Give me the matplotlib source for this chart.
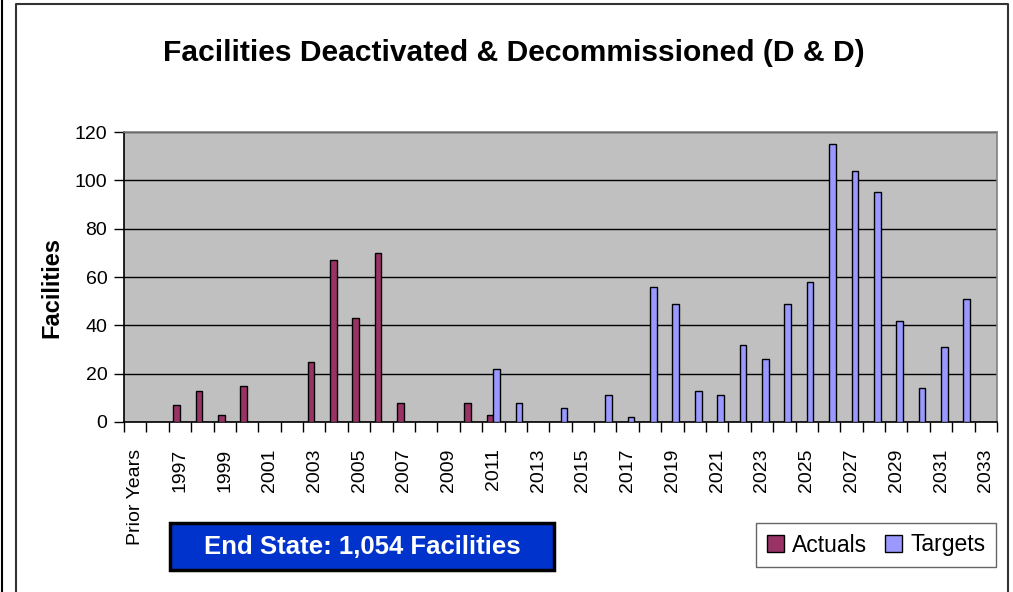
import numpy as np
import matplotlib.pyplot as plt
from matplotlib.lines import Line2D
from matplotlib.patches import Rectangle

# Datos (NaN = sin barra)
years = list(range(1996, 2034))
categories = ["Prior Years"] + [str(y) for y in years]

actuals = [np.nan, np.nan, 7, 13, 3, 15, np.nan, np.nan, 25, 67, 43, 70, 8,
           np.nan, np.nan, 8, 3] + [np.nan] * 22
targets = [np.nan] * 16 + [22, 8, np.nan, 6, np.nan, 11, 2, 56, 49, 13, 11, 32,
                           26, 49, 58, 115, 104, 95, 42, 14, 31, 51, np.nan]

REG = ["Liberation Sans", "DejaVu Sans"]

W, H = 1013, 592
fig = plt.figure(figsize=(W / 100, H / 100), dpi=100)
ax = fig.add_axes([124 / W, 1 - 422 / H, (997 - 124) / W, (422 - 132) / H])
ax.set_facecolor("#C0C0C0")

x = np.arange(len(categories))
bw = 0.3
a = np.array(actuals, dtype=float)
t = np.array(targets, dtype=float)
ma = ~np.isnan(a)
mt = ~np.isnan(t)
ax.bar(x[ma] - bw / 2, a[ma], width=bw, color="#993366", edgecolor="black",
       linewidth=1, zorder=3, label="Actuals")
ax.bar(x[mt] + bw / 2, t[mt], width=bw, color="#9999FF", edgecolor="black",
       linewidth=1, zorder=3, label="Targets")

ax.set_xlim(-0.5, len(categories) - 0.5)
ax.set_ylim(0, 120)
ax.set_yticks(np.arange(0, 121, 20))
ax.yaxis.grid(True, color="black", linewidth=1, zorder=1)
ax.set_axisbelow(True)
for lbl in ax.get_yticklabels():
    lbl.set_family(REG)
ax.tick_params(axis="y", length=7, width=1, pad=5, labelsize=14)

# etiquetas cada dos categorías, marcas en los límites
ax.set_xticks(x[::2])
ax.set_xticklabels(categories[::2], rotation=90, family=REG, fontsize=14,
                   va="top")
ax.set_xticks(np.arange(len(categories) + 1) - 0.5, minor=True)
ax.tick_params(axis="x", which="major", length=0, pad=19)
ax.tick_params(axis="x", which="minor", length=7, width=1)

for s in ["left", "bottom"]:
    ax.spines[s].set_color("black")
    ax.spines[s].set_linewidth(1.2)
for s in ["top", "right"]:
    ax.spines[s].set_color("#808080")
    ax.spines[s].set_linewidth(1.2)

fig.text(514 / W, 1 - 61 / H, "Facilities Deactivated & Decommissioned (D & D)",
         ha="center", va="baseline", fontsize=21.6, fontweight="bold",
         family=REG)
fig.text(52 / W, 1 - 287 / H, "Facilities", rotation=90, ha="center",
         va="center", fontsize=17, fontweight="bold", family=REG)

# cuadro azul
fig.patches.append(Rectangle((170 / W, 1 - 570 / H), (554 - 170) / W,
                             (570 - 523) / H, transform=fig.transFigure,
                             facecolor="#0033CC", edgecolor="black",
                             linewidth=2.5))
fig.text(362 / W, 1 - 547 / H, "End State: 1,054 Facilities", ha="center",
         va="center", color="white", fontsize=18.5, fontweight="bold",
         family=REG)

leg = fig.legend(loc="center", bbox_to_anchor=(876 / W, 1 - 545 / H), ncol=2,
                 frameon=True, fancybox=False, edgecolor="#404040",
                 prop={"family": REG, "size": 16.5}, handlelength=0.75,
                 handleheight=0.75, handletextpad=0.35, columnspacing=0.8,
                 borderpad=0.45, borderaxespad=0)
leg.get_frame().set_linewidth(1)

# bordes del gráfico
fig.add_artist(Line2D([1.5 / W, 1.5 / W], [0, 1], color="black", linewidth=1.5,
                      transform=fig.transFigure))
fig.add_artist(Line2D([16 / W, 16 / W, 1008 / W, 1008 / W],
                      [0, 1 - 4 / H, 1 - 4 / H, 0], color="#333333",
                      linewidth=1.5, transform=fig.transFigure))

fig.savefig("out.png", dpi=100)
